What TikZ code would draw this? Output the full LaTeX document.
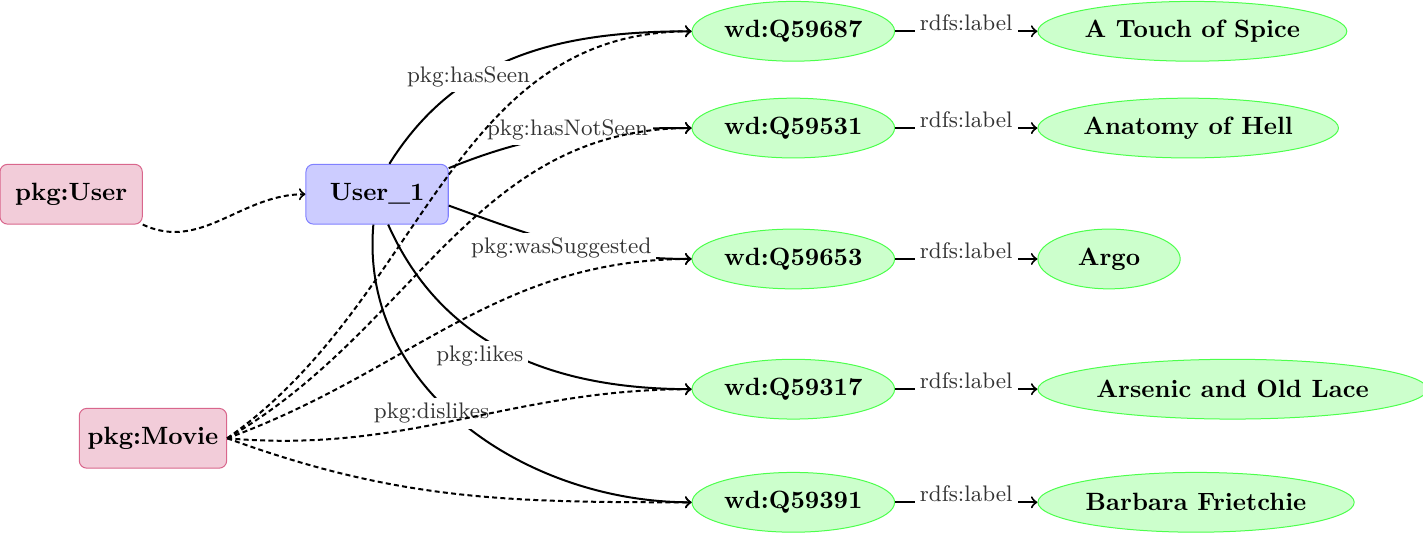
\documentclass[tikz,border=0pt]{standalone}
\usepackage{tikz}
\usetikzlibrary{positioning,shapes.geometric}

\begin{document}
\begin{tikzpicture}[
    classbox/.style={draw=purple!60, fill=purple!20, rounded corners=3pt, minimum width=2cm, minimum height=0.84cm, font=\bfseries},
    userbox/.style={draw=blue!50, fill=blue!20, rounded corners=3pt, minimum width=2cm, minimum height=0.84cm, font=\bfseries},
    entity/.style={ellipse, draw=green!70, fill=green!20, minimum width=2.84cm, minimum height=0.84cm, inner sep=1pt, font=\bfseries},
    literal/.style={ellipse, draw=green!70, fill=green!20, minimum width=2cm, minimum height=0.84cm, inner xsep=0.6pt, font=\bfseries},
    prop/.style={thick, ->},
    inst/.style={thick, dash pattern=on 2pt off 1.3pt, ->},
    plabel/.style={fill=white, text=black!80, inner sep=2pt, font=\small}
]

    % Picture frame
    \useasboundingbox (0,0) rectangle (20.0,7.51);

    % Classes and the user
    \node[classbox] (user) at (1.0,4.78) {pkg:User};
    \node[userbox] (user1) at (5.30,4.78) {User\_1};
    \node[classbox] (movie) at (2.15,1.35) {pkg:Movie};

    % Movies and their labels
    \foreach \i/\qid/\title/\y in {1/Q59687/A Touch of Spice/7.07,
                                   2/Q59531/Anatomy of Hell/5.71,
                                   3/Q59653/Argo/3.87,
                                   4/Q59317/Arsenic and Old Lace/2.04,
                                   5/Q59391/Barbara Frietchie/0.45} {
        \node[entity] (wd\i) at (11.15,\y) {wd:\qid};
        \node[literal, right=2cm of wd\i] (lbl\i) {\title};
        \draw[prop] (wd\i) -- node[plabel, yshift=3.5pt] {rdfs:label} (lbl\i);
    }

    % Properties of User_1
    \draw[prop] (user1.68) to[out=58, in=180] node[plabel, pos=0.33, yshift=2pt] {pkg:hasSeen} (wd1.west);
    \draw[prop] (user1.20) to[out=22, in=180] node[plabel, pos=0.5, yshift=2pt] {pkg:hasNotSeen} (wd2.west);
    \draw[prop] (user1.-9) to[out=-20, in=180] node[plabel, pos=0.47, yshift=-2pt] {pkg:wasSuggested} (wd3.west);
    \draw[prop] (user1.-70) to[out=-66, in=180] node[plabel, pos=0.4, yshift=-8pt] {pkg:likes} (wd4.west);
    \draw[prop] (user1.-97) to[out=-95, in=180] node[plabel, pos=0.4, yshift=-8pt] {pkg:dislikes} (wd5.west);

    % Types
    \draw[inst] (user.south east) to[out=-25, in=180] (user1.west);
    \foreach \i/\ang in {1/35, 2/30, 3/20, 4/-5, 5/-20}
        \draw[inst] (movie.east) to[out=\ang, in=180] (wd\i.west);

\end{tikzpicture}
\end{document}
